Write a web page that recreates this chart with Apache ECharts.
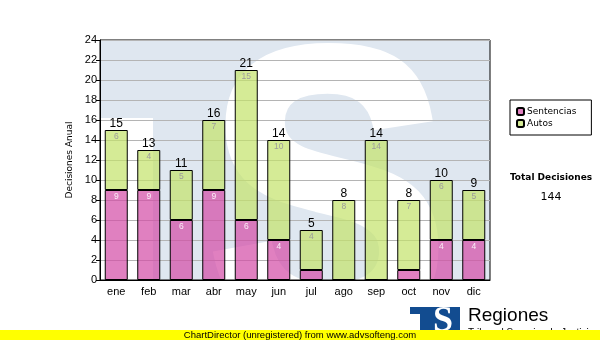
<!DOCTYPE html>
<html>
<head>
<meta charset="utf-8">
<script src="https://cdn.jsdelivr.net/npm/echarts@6/dist/echarts.min.js"></script>
<style>
  html, body { margin: 0; padding: 0; background: #ffffff; }
  #chart { width: 600px; height: 340px; }
</style>
</head>
<body>
<div id="chart"></div>
<script>
// Monthly decisions, split by type
const months = ['ene', 'feb', 'mar', 'abr', 'may', 'jun', 'jul', 'ago', 'sep', 'oct', 'nov', 'dic'];
const sentencias = [9, 9, 6, 9, 6, 4, 1, 0, 0, 1, 4, 4];
const autos = [6, 4, 5, 7, 15, 10, 4, 8, 14, 7, 6, 5];
const yMin = 0, yMax = 24, yStep = 2;

const totals = months.map((_, i) => sentencias[i] + autos[i]);
const grandTotal = totals.reduce((a, b) => a + b, 0);
const zeros = months.map(() => 0);

const chart = echarts.init(document.getElementById('chart'), null, { renderer: 'canvas' });

const labelFont = 'Liberation Sans';
const uiFont = 'DejaVu Sans';

chart.setOption({
  animation: false,
  backgroundColor: '#ffffff',
  grid: {
    left: 100, top: 40, right: 110, bottom: 60,
    show: true, borderColor: '#000', borderWidth: 1, backgroundColor: 'transparent'
  },
  legend: {
    data: ['Sentencias', 'Autos'],
    orient: 'vertical',
    left: 510, top: 100,
    padding: [7, 15, 7, 6],
    itemGap: 3,
    itemWidth: 7, itemHeight: 7,
    borderColor: '#000', borderWidth: 1,
    textStyle: { fontFamily: uiFont, fontSize: 9, color: '#000', padding: [0, 0, 0, -2] },
    selectedMode: false
  },
  xAxis: {
    type: 'category',
    data: months,
    axisLine: { lineStyle: { color: '#000', width: 1 } },
    axisTick: { alignWithLabel: true, length: 5, lineStyle: { color: '#000' } },
    axisLabel: { color: '#000', fontFamily: labelFont, fontSize: 11, margin: 6 },
    splitLine: { show: false }
  },
  yAxis: {
    type: 'value',
    min: yMin, max: yMax, interval: yStep,
    name: 'Decisiones Anual',
    nameLocation: 'middle',
    nameGap: 22,
    nameTextStyle: { fontFamily: uiFont, fontSize: 9, color: '#000' },
    axisLine: { show: true, lineStyle: { color: '#000', width: 1 } },
    axisTick: { show: true, length: 4, lineStyle: { color: '#000' } },
    axisLabel: { color: '#000', fontFamily: labelFont, fontSize: 11, margin: 3 },
    splitLine: { show: true, lineStyle: { color: '#b4b4b4', width: 1 } }
  },
  series: [
    {
      name: 'Sentencias', type: 'bar', stack: 'total', data: sentencias, barWidth: 23,
      itemStyle: { color: 'rgba(211,74,165,0.7)', borderColor: '#000', borderWidth: 1 },
      label: {
        show: true, position: 'insideTop', distance: 2,
        fontFamily: labelFont, fontSize: 8.5, color: '#fbeef7',
        formatter: p => (p.value >= 2 ? String(p.value) : '')
      }
    },
    {
      name: 'Autos', type: 'bar', stack: 'total', data: autos, barWidth: 23,
      itemStyle: { color: 'rgba(195,226,105,0.7)', borderColor: '#000', borderWidth: 1 },
      label: {
        show: true, position: 'insideTop', distance: 2,
        fontFamily: labelFont, fontSize: 8.5, color: '#9c9c9c',
        formatter: p => (p.value >= 2 ? String(p.value) : '')
      }
    },
    {
      name: 'Total', type: 'bar', stack: 'total', data: zeros, barWidth: 23,
      itemStyle: { color: 'rgba(0,0,0,0)', borderWidth: 0 },
      label: {
        show: true, position: 'top', distance: 0,
        fontFamily: labelFont, fontSize: 12, color: '#000',
        formatter: p => String(totals[p.dataIndex])
      }
    }
  ],
  graphic: [
    // light-blue emblem behind the plot
    { type: 'rect', z: -20, silent: true,
      shape: { x: 100, y: 40, width: 390, height: 240 },
      style: { fill: '#dfe7f0' } },
    { type: 'rect', z: -19, silent: true,
      shape: { x: 100, y: 118, width: 53, height: 162 },
      style: { fill: '#ffffff' } },
    { type: 'text', z: -19, silent: true, x: 328, y: 417, scaleX: 0.9, scaleY: 1,
      style: { text: 'S', x: 0, y: 0, textAlign: 'center', textVerticalAlign: 'bottom',
               font: 'bold 400px "Liberation Sans"', fill: '#ffffff', stroke: '#ffffff', lineWidth: 10 } },
    // side notes
    { type: 'text', z: 10,
      style: { text: 'Total Decisiones', x: 551, y: 178, textAlign: 'center', textVerticalAlign: 'middle',
               font: 'bold 9px "DejaVu Sans"', fill: '#000' } },
    { type: 'text', z: 10,
      style: { text: String(grandTotal), x: 551, y: 197, textAlign: 'center', textVerticalAlign: 'middle',
               font: '11px "DejaVu Sans"', fill: '#000' } },
    // footer logo
    { type: 'rect', z: 20, shape: { x: 410, y: 307, width: 50, height: 28 }, style: { fill: '#124c90' } },
    { type: 'rect', z: 21, shape: { x: 410, y: 314, width: 10, height: 21 }, style: { fill: '#ffffff' } },
    { type: 'text', z: 22,
      style: { text: 'S', x: 443, y: 322, textAlign: 'center', textVerticalAlign: 'middle',
               font: 'bold 36px "Liberation Serif"', fill: '#ffffff' } },
    { type: 'text', z: 20,
      style: { text: 'Regiones', x: 468, y: 316, textVerticalAlign: 'middle',
               font: '19px "Liberation Sans"', fill: '#000' } },
    { type: 'text', z: 20,
      style: { text: 'Tribunal Superior de Justicia', x: 468, y: 328, textVerticalAlign: 'top',
               font: '10px "Liberation Sans"', fill: '#000' } },
    // footer strip
    { type: 'rect', z: 30, shape: { x: 0, y: 330, width: 600, height: 10 }, style: { fill: '#ffff00' } },
    { type: 'text', z: 31,
      style: { text: 'ChartDirector (unregistered) from www.advsofteng.com', x: 300, y: 335,
               textAlign: 'center', textVerticalAlign: 'middle',
               font: '9.5px "Liberation Sans"', fill: '#000' } }
  ]
});
</script>
</body>
</html>
